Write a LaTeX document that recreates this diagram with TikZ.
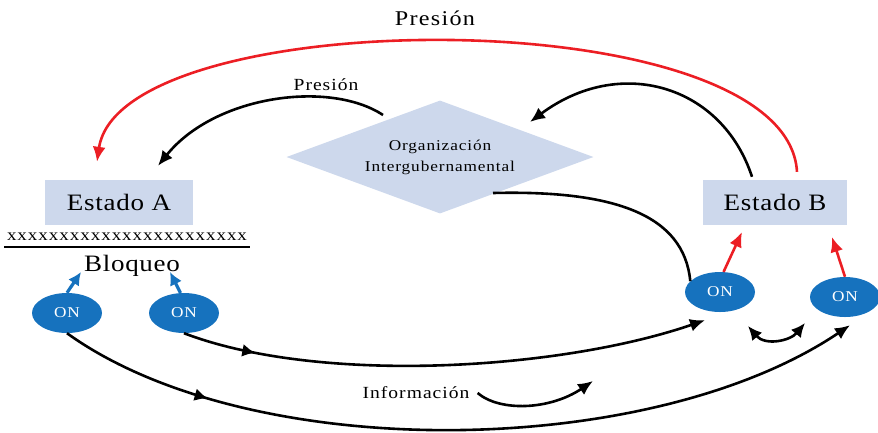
\documentclass[tikz,border=0pt]{standalone}
\usepackage{fontspec}
\setmainfont{Liberation Serif}[FakeStretch=1.15,LetterSpace=6]
\usetikzlibrary{shapes.geometric,arrows.meta,calc,decorations.markings}
\definecolor{paleblue}{RGB}{205,216,236}
\definecolor{onblue}{RGB}{22,114,190}
\definecolor{pressred}{RGB}{236,30,36}
\begin{document}
\begin{tikzpicture}[x=1pt,y=-1pt,
  statebox/.style={fill=paleblue,minimum height=45pt,inner sep=0pt,font=\fontsize{23.5}{26}\selectfont\addfontfeature{LetterSpace=3}},
  orgshape/.style={diamond,fill=paleblue,minimum width=307pt,minimum height=113pt,inner sep=0pt,aspect=2.7,align=center,font=\fontsize{15}{21}\selectfont},
  onnode/.style={ellipse,fill=onblue,text=white,minimum width=70pt,minimum height=40pt,inner sep=0pt,font=\fontsize{15}{18}\selectfont},
  smalltext/.style={font=\fontsize{17}{20}\selectfont,inner sep=0pt},
  bigtext/.style={font=\fontsize{21}{24}\selectfont,inner sep=0pt},
  flow/.style={line width=2.6pt,-{Latex[length=15pt,width=13pt]}},
  redflow/.style={draw=pressred,line width=2.6pt,-{Latex[length=15pt,width=13pt]}},
  blueflow/.style={draw=onblue,line width=3.2pt,-{Latex[length=13pt,width=13pt]}},
  midarrow/.style={postaction={decorate},decoration={markings,mark=at position #1 with {\arrow{Latex[length=13pt,width=13pt]}}}},
]
\useasboundingbox (0,0) rectangle (878,432);

% main actors
\node[statebox,minimum width=148pt] (A) at (119,202.5) {Estado A};
\node[statebox,minimum width=144pt] (B) at (775,202.5) {Estado B};
\node[orgshape] (OI) at (440,157) {Organización\\Intergubernamental};

% blockade under state A
\node[inner sep=0pt,font=\fontsize{16.5}{18}\selectfont] (xs) at (127,237) {xxxxxxxxxxxxxxxxxxxxxxx};
\draw[line width=2.7pt] (4,247) -- (250,247);
\node[inner sep=0pt,font=\fontsize{23.5}{26}\selectfont\addfontfeature{LetterSpace=3}] (bloq) at (132,266) {Bloqueo};

% NGOs
\node[onnode] (a1) at (67,313) {ON};
\node[onnode] (a2) at (184,313) {ON};
\node[onnode] (b1) at (720,292) {ON};
\node[onnode] (b2) at (845,297) {ON};

% labels
\node[bigtext] (ptop) at (435,18) {Presión};
\node[smalltext] (pmid) at (326,85) {Presión};
\node[smalltext] (info) at (416,393) {Información};

% free ends of the short arrows
\coordinate (ta1) at (81,272);
\coordinate (ta2) at (170,272);
\coordinate (tb1) at (742,232);
\coordinate (tb2) at (832,237);
\coordinate (tinfo) at (593,381);

% pressure from B over A
\draw[redflow] ($(B.north)+(22,-8)$) .. controls (787,-2) and (120,2) .. ($(A.north)+(-22,-18)$);

% pressure through the organization
\draw[flow] ($(OI.center)+(-57,-42)$) .. controls (330,80) and (215,95) .. ($(A.north)+(39,-14)$);
\draw[flow] ($(B.north)+(-23,-3)$) .. controls (722,85) and (620,55) .. ($(OI.center)+(90,-35)$);
\draw[line width=2.6pt] ($(OI.center)+(53,36)$) .. controls (615,190) and (684,215) .. (b1.160);

% NGO actions
\draw[blueflow] (a1.north) -- (ta1);
\draw[blueflow] (a2.100) -- (ta2);
\draw[redflow] (b1.80) -- (tb1);
\draw[redflow] (b2.north) -- (tb2);

% information network
\draw[flow,midarrow=0.14] (a2.south) .. controls (320,385) and (560,370) .. ($(b1.south)+(-15,8)$);
\draw[flow,midarrow=0.19] (a1.south) .. controls (250,465) and (650,460) .. ($(b2.south)+(5,8)$);
\draw[line width=2.6pt,{Latex[length=14pt,width=13pt]}-{Latex[length=14pt,width=13pt]}]
  ($(b1.center)+(28,34)$) .. controls (765,346) and (790,341) .. ($(b2.center)+(-40,26)$);
\draw[flow] ($(info.east)+(8,0)$) .. controls (500,412) and (550,410) .. (tinfo);
\end{tikzpicture}
\end{document}
